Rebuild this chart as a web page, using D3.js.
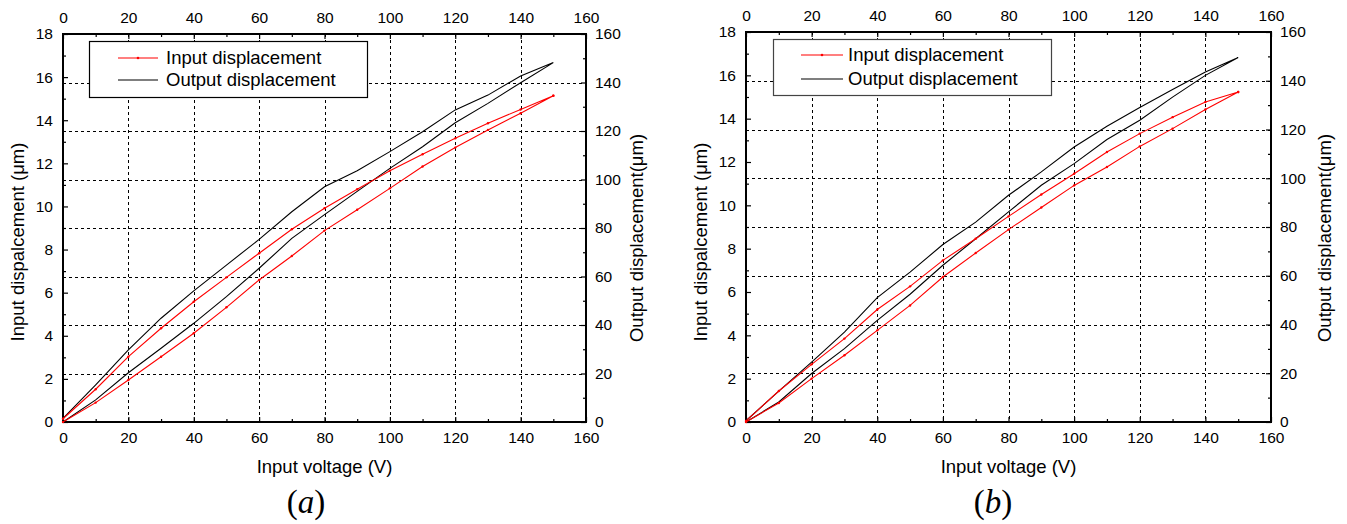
<!DOCTYPE html>
<html>
<head>
<meta charset="utf-8">
<script src="https://cdn.jsdelivr.net/npm/d3@7"></script>
<style>
  body { margin: 0; background: #fff; }
  svg { display: block; font-family: "Liberation Sans", Arial, sans-serif; }
</style>
</head>
<body>
<svg id="chart" width="1347" height="524"></svg>
<script>
"use strict";

// data: voltage goes up 0 -> 150 and back down 150 -> 0
const voltageUp = [0, 10, 20, 30, 40, 50, 60, 70, 80, 90, 100, 110, 120, 130, 140, 150];
const voltageDown = [150, 140, 130, 120, 110, 100, 90, 80, 70, 60, 50, 40, 30, 20, 10, 0];

// panel (a)
const inputA_up = [0, 0.9, 1.95, 3.03, 4.12, 5.32, 6.59, 7.7, 8.88, 9.85, 10.84, 11.85, 12.73, 13.55, 14.32, 15.14];
const inputA_down = [15.14, 14.5, 13.86, 13.16, 12.42, 11.66, 10.8, 9.92, 8.94, 7.83, 6.71, 5.58, 4.35, 3.03, 1.52, 0.15];
const outputA_up = [0, 9.1, 20.3, 30.4, 40.7, 51.7, 63.4, 75.7, 85.5, 95.1, 104.6, 113.5, 123.4, 131.4, 139.9, 148.2];
const outputA_down = [148.2, 142.7, 134.8, 128.7, 119.7, 111.5, 103.6, 97.0, 86.7, 75.3, 64.7, 54.1, 42.8, 29.7, 15.3, 1.5];

// panel (b)
const inputB_up = [0, 0.88, 2.0, 3.08, 4.23, 5.38, 6.69, 7.8, 8.88, 9.9, 10.92, 11.77, 12.72, 13.54, 14.42, 15.23];
const inputB_down = [15.23, 14.77, 14.07, 13.31, 12.46, 11.46, 10.5, 9.49, 8.46, 7.46, 6.26, 5.19, 3.85, 2.66, 1.43, 0.05];
const outputB_up = [0, 8.2, 19.9, 30.1, 41.7, 52.4, 64.3, 75.2, 86.2, 97.1, 106, 115.9, 123.8, 133.3, 142.2, 149.5];
const outputB_down = [149.5, 143.6, 136.4, 129, 121.3, 112.8, 102.6, 93, 82, 72.8, 61.5, 51, 36.9, 24.6, 12.7, 0.5];

// labels
const xTicks = [0, 20, 40, 60, 80, 100, 120, 140, 160];
const yLeftTicks = [0, 2, 4, 6, 8, 10, 12, 14, 16, 18];
const yRightTicks = [0, 20, 40, 60, 80, 100, 120, 140, 160];
const legendLabels = ["Input displacement", "Output displacement"];
const xLabel = "Input voltage (V)";
const yLeftLabel = "Input dispalcement (\u03bcm)";
const yRightLabel = "Output displacement(\u03bcm)";



const svg = d3.select("#chart");
svg.append("rect").attr("width", 1347).attr("height", 524).attr("fill", "#fff");



function panel(p) {

    let g = svg.append("g");

    // scales
    let x = d3.scaleLinear().domain([0, 160]).range([p.left, p.right]);
    let yL = d3.scaleLinear().domain([0, 18]).range([p.bottom, p.top]);
    let yR = d3.scaleLinear().domain([0, 160]).range([p.bottom, p.top]);



    // dashed grid
    let grid = g.append("g")
    .attr("stroke", "#000")
    .attr("stroke-width", 1)
    .attr("stroke-dasharray", "3,3")
    .attr("shape-rendering", "crispEdges");
    grid.selectAll("line.v")
    .data(xTicks.slice(1, -1))
    .enter()
    .append("line")
    .attr("x1", d => Math.round(x(d)) + 0.5).attr("x2", d => Math.round(x(d)) + 0.5)
    .attr("y1", p.top).attr("y2", p.bottom);
    grid.selectAll("line.h")
    .data(yRightTicks.slice(1, -1))
    .enter()
    .append("line")
    .attr("y1", d => Math.round(yR(d)) + 0.5).attr("y2", d => Math.round(yR(d)) + 0.5)
    .attr("x1", p.left).attr("x2", p.right);



    // axes, ticks pointing inward
    const axisFont = g => g.selectAll("text").attr("font-size", "15.5px").attr("font-family", "Liberation Sans, Arial, sans-serif").attr("fill", "#000");
    const clean = g => { g.select(".domain").remove(); g.selectAll("line").attr("stroke-width", 1.2); };

    let axes = [
        { gen: d3.axisBottom(x), tf: `translate(0,${p.bottom})`, major: xTicks, minor: d3.range(10, 160, 20), pad: 9.5 },
        { gen: d3.axisTop(x), tf: `translate(0,${p.top})`, major: xTicks, minor: d3.range(10, 160, 20), pad: 11.5 },
        { gen: d3.axisLeft(yL), tf: `translate(${p.left},0)`, major: yLeftTicks, minor: d3.range(1, 18, 2), pad: 10 },
        { gen: d3.axisRight(yR), tf: `translate(${p.right},0)`, major: yRightTicks, minor: d3.range(10, 160, 20), pad: 9 }
    ];
    axes.forEach(a => {
        g.append("g")
        .attr("transform", a.tf)
        .call(a.gen.tickValues(a.major).tickSize(-5).tickPadding(a.pad))
        .call(axisFont)
        .call(clean);
        g.append("g")
        .attr("transform", a.tf)
        .call(a.gen.tickValues(a.minor).tickSize(-3).tickFormat(""))
        .call(clean);
    });



    // frame
    g.append("rect")
    .attr("x", p.left).attr("y", p.top)
    .attr("width", p.right - p.left).attr("height", p.bottom - p.top)
    .attr("fill", "none")
    .attr("stroke", "#000")
    .attr("stroke-width", 2);



    // curves
    let inputData = voltageUp.map((v, i) => [v, p.inputUp[i]]).concat(voltageDown.map((v, i) => [v, p.inputDown[i]]));
    let outputData = voltageUp.map((v, i) => [v, p.outputUp[i]]).concat(voltageDown.map((v, i) => [v, p.outputDown[i]]));

    g.append("path")
    .datum(outputData)
    .attr("fill", "none")
    .attr("stroke", "#000")
    .attr("stroke-width", 1.1)
    .attr("d", d3.line().x(d => x(d[0])).y(d => yR(d[1])));

    g.append("path")
    .datum(inputData)
    .attr("fill", "none")
    .attr("stroke", "#ff0000")
    .attr("stroke-width", 1.1)
    .attr("d", d3.line().x(d => x(d[0])).y(d => yL(d[1])));

    g.selectAll("circle.pt")
    .data(inputData)
    .enter()
    .append("circle")
    .attr("cx", d => x(d[0]))
    .attr("cy", d => yL(d[1]))
    .attr("r", 1.2)
    .attr("fill", "#ff0000");



    // legend
    let lg = g.append("g");
    lg.append("rect")
    .attr("x", p.legend.x0 + 0.5).attr("y", p.legend.y0 + 0.5)
    .attr("width", p.legend.x1 - p.legend.x0).attr("height", p.legend.y1 - p.legend.y0)
    .attr("fill", "#fff")
    .attr("stroke", p.legend.stroke)
    .attr("stroke-width", 1.2);
    ["#ff0000", "#000"].forEach((c, i) => {
        let yy = p.legend.rows[i];
        lg.append("line")
        .attr("x1", p.legend.lx0).attr("x2", p.legend.lx1)
        .attr("y1", yy).attr("y2", yy)
        .attr("stroke", c)
        .attr("stroke-width", 1.1);
        if (i == 0) {
            lg.append("circle")
            .attr("cx", (p.legend.lx0 + p.legend.lx1) / 2).attr("cy", yy)
            .attr("r", 1.3).attr("fill", c);
        }
        lg.append("text")
        .attr("x", p.legend.tx).attr("y", yy)
        .attr("dy", "0.35em")
        .attr("font-size", "18.5px")
        .text(legendLabels[i]);
    });



    // axis titles
    g.append("text")
    .attr("x", (p.left + p.right) / 2).attr("y", p.bottom + 45)
    .attr("dy", "0.35em")
    .attr("text-anchor", "middle")
    .attr("font-size", "18.5px")
    .text(xLabel);

    g.append("text")
    .attr("transform", `translate(${p.yLeftX}, 242) rotate(-90)`)
    .attr("dy", "0.35em")
    .attr("text-anchor", "middle")
    .attr("font-size", "18.5px")
    .text(yLeftLabel);

    g.append("text")
    .attr("transform", `translate(${p.yRightX}, 238) rotate(-90)`)
    .attr("dy", "0.35em")
    .attr("text-anchor", "middle")
    .attr("font-size", "18.5px")
    .text(yRightLabel);



    // caption
    let cap = g.append("text")
    .attr("x", p.captionX).attr("y", 513)
    .attr("text-anchor", "middle")
    .attr("font-family", "Liberation Serif, Times New Roman, serif")
    .attr("font-size", "33px");
    cap.append("tspan").text("(");
    cap.append("tspan").attr("font-style", "italic").text(p.caption);
    cap.append("tspan").text(")");
}



panel({
    left: 63, right: 586, top: 34, bottom: 422,
    inputUp: inputA_up, inputDown: inputA_down, outputUp: outputA_up, outputDown: outputA_down,
    legend: { x0: 89, x1: 367, y0: 41, y1: 97, lx0: 118, lx1: 158, tx: 166, rows: [58, 80], stroke: "#000" },
    yLeftX: 18, yRightX: 637, captionX: 306, caption: "a"
});

panel({
    left: 746, right: 1271, top: 32, bottom: 422,
    inputUp: inputB_up, inputDown: inputB_down, outputUp: outputB_up, outputDown: outputB_down,
    legend: { x0: 773, x1: 1051, y0: 39, y1: 95, lx0: 801, lx1: 843, tx: 848, rows: [55, 79], stroke: "#444" },
    yLeftX: 701, yRightX: 1325, captionX: 993, caption: "b"
});
</script>
</body>
</html>
